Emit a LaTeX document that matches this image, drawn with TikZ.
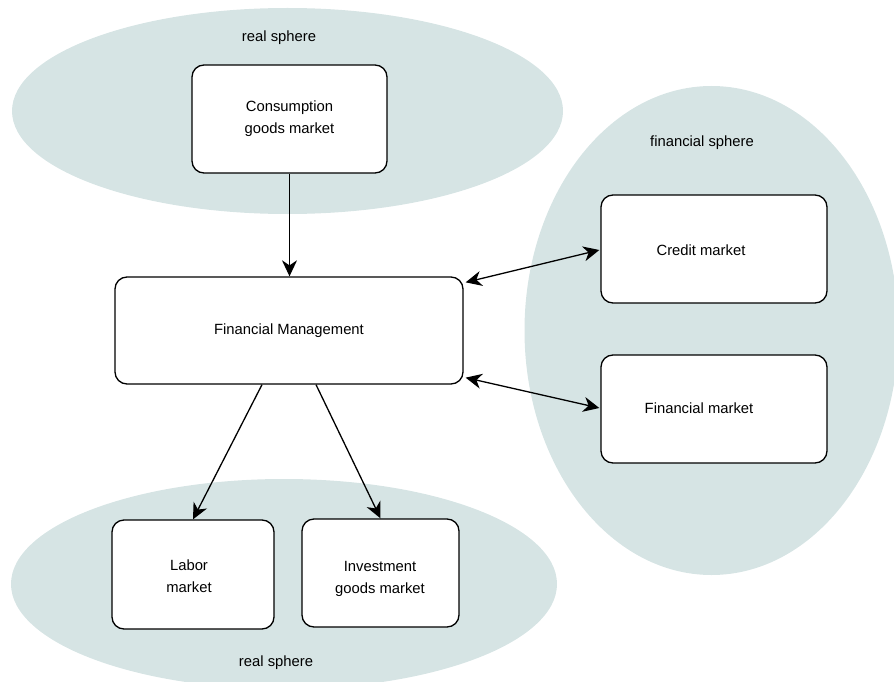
\documentclass[tikz,border=0pt]{standalone}
\usepackage{fontspec}
\setmainfont{Liberation Sans}
\usetikzlibrary{arrows.meta,calc}
\definecolor{spherefill}{RGB}{214,228,228}
\begin{document}
\begin{tikzpicture}[x=1pt,y=-1pt,
  font=\fontsize{14.8}{22}\selectfont,
  sphere/.style={fill=spherefill},
  spherelabel/.style={inner sep=0pt,anchor=center},
  mbox/.style={draw=black,fill=white,line width=1.3pt,rounded corners=12pt,align=center,inner sep=0pt},
  boxtext/.style={inner sep=0pt,align=center},
  tip/.tip={Stealth[length=16pt,width=15pt,inset=5pt]},
  link/.style={line width=1.3pt,-tip},
  dlink/.style={line width=1.3pt,tip-tip}]
\useasboundingbox (0,0) rectangle (894,682);
\clip (0,0) rectangle (894,682);
% spheres
\fill[sphere] (287.5,111) ellipse [x radius=275.5, y radius=103];
\fill[sphere] (711.5,330.5) ellipse [x radius=187, y radius=244.5];
\fill[sphere] (284,584) ellipse [x radius=273, y radius=105];
\node[spherelabel] (lbltop) at (279,38) {real sphere};
\node[spherelabel] (lblfin) at (702,143) {financial sphere};
\node[spherelabel] (lblbot) at (276,663) {real sphere};
% boxes
\node[mbox,minimum width=195pt,minimum height=108pt] (cons) at (289.5,119) {Consumption\\goods market};
\node[mbox,minimum width=348pt,minimum height=107pt] (fm) at (289,330.5) {Financial Management};
\node[mbox,minimum width=226pt,minimum height=108pt] (credit) at (714,249) {};
\node[boxtext] (credittext) at (701,250) {Credit market};
\node[mbox,minimum width=226pt,minimum height=108pt] (finm) at (714,409) {};
\node[boxtext] (finmtext) at (699,408) {Financial market};
\node[mbox,minimum width=162pt,minimum height=109pt] (labor) at (193,574.5) {};
\node[boxtext] (labortext) at (189,576) {Labor\\market};
\node[mbox,minimum width=157pt,minimum height=108pt] (invest) at (380.5,573) {};
\node[boxtext] (investtext) at (380,579) {Investment\\goods market};
% connectors
\draw[link] (cons.south) -- (cons.south |- fm.north);
\draw[dlink] ($(fm.north east)+(2,6)$) -- ($(credit.west)+(-1,1)$);
\draw[dlink] ($(fm.south east)+(2,-7)$) -- ($(finm.west)+(-1,-1)$);
\draw[link] ($(fm.south)+(-27,0)$) -- (labor.north);
\draw[link] ($(fm.south)+(27,0)$) -- (invest.north);
\end{tikzpicture}
\end{document}
